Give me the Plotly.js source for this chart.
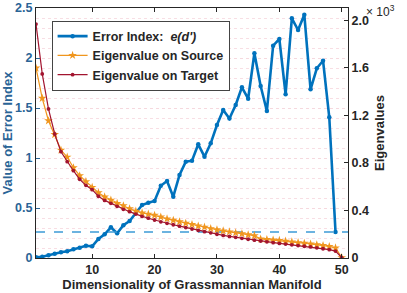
<!DOCTYPE html>
<html><head><meta charset="utf-8">
<script src="https://cdn.plot.ly/plotly-3.0.1.min.js"></script>
<style>html,body{margin:0;padding:0;background:#fff}#c{width:407px;height:293px}</style>
</head><body><div id="c"></div>
<script>
const dims = Array.from({length: 50}, (_, i) => i + 1);
const errorIndex = [0.007,0.013,0.027,0.043,0.057,0.067,0.087,0.103,0.123,0.117,
  0.19,0.237,0.307,0.247,0.327,0.37,0.45,0.53,0.553,0.57,
  0.723,0.77,0.613,0.83,0.963,0.973,1.137,1.013,1.147,1.33,
  1.48,1.395,1.53,1.707,1.593,2.047,1.72,1.47,2.123,2.19,
  1.637,2.397,2.28,2.433,1.687,1.897,1.973,1.407,0.26];
const eigSource = [1.60,1.345,1.156,1.04,0.909,0.85,0.76,0.693,0.643,0.595,
  0.55,0.515,0.488,0.46,0.44,0.415,0.395,0.38,0.37,0.36,
  0.345,0.33,0.318,0.305,0.293,0.282,0.27,0.26,0.248,0.238,
  0.228,0.22,0.212,0.204,0.196,0.188,0.16,0.156,0.152,0.148,
  0.142,0.136,0.13,0.124,0.118,0.112,0.105,0.097,0.085,0.003];
const eigTarget = [1.97,1.55,1.255,1.044,0.895,0.811,0.735,0.663,0.612,0.575,
  0.52,0.485,0.46,0.435,0.41,0.39,0.37,0.35,0.335,0.32,
  0.305,0.292,0.28,0.268,0.256,0.244,0.232,0.222,0.212,0.2,
  0.19,0.182,0.174,0.166,0.158,0.15,0.143,0.136,0.129,0.123,
  0.117,0.111,0.105,0.099,0.093,0.086,0.078,0.07,0.058,0.003];
const leftTicks = [0,0.5,1,1.5,2,2.5];
const leftTickText = ['0','0.5','1','1.5','2','2.5'];
const rightTicks = [0,0.4,0.8,1.2,1.6,2.0];
const rightTickText = ['0','0.4','0.8','1.2','1.6','2.0'];
const xTicks = [10,20,30,40,50];
const xRange = [1,51];

const FONT = 'Liberation Sans, Arial, sans-serif';
const dark = '#262626';
const leftCol = '#2a6496';
const errDims = dims.slice(0, errorIndex.length);
const threshold = errorIndex[errorIndex.length - 1];

const traces = [
  {x: errDims, y: errorIndex, name: "Error Index:  <i>e(d')</i>", mode: 'lines+markers',
   line: {color: '#0072BD', width: 2.6}, marker: {color: '#0072BD', size: 4.5}},
  {x: dims, y: eigSource, yaxis: 'y2', name: 'Eigenvalue on Source', mode: 'lines+markers',
   line: {color: '#F0961E', width: 1.2}, marker: {color: '#F0961E', symbol: 'star', size: 6.5}},
  {x: dims, y: eigTarget, yaxis: 'y2', name: 'Eigenvalue on Target', mode: 'lines+markers',
   line: {color: '#A2142F', width: 1.2}, marker: {color: '#A2142F', size: 3.8}},
  {x: xRange, y: [threshold, threshold], mode: 'lines', showlegend: false, hoverinfo: 'skip',
   line: {color: '#3D9BD6', width: 1.5, dash: 'dash'}}
];

const layout = {
  width: 407, height: 293,
  margin: {l: 36, r: 59, t: 8, b: 35},
  paper_bgcolor: '#fff', plot_bgcolor: '#fff',
  font: {family: FONT, size: 12, color: dark},
  showlegend: true,
  legend: {x: 0.05, y: 0.95, xanchor: 'left', yanchor: 'top',
    bgcolor: '#fff', bordercolor: '#444', borderwidth: 1,
    font: {family: FONT, size: 12.5, color: dark, weight: 'bold'},
    tracegroupgap: 0, itemwidth: 30},
  xaxis: {range: xRange, tickvals: xTicks, ticks: 'inside', ticklen: 4, tickcolor: dark,
    showline: true, linecolor: dark, linewidth: 1, mirror: 'ticks', showgrid: false, zeroline: false,
    tickfont: {family: FONT, size: 12.5, color: dark, weight: 'bold'},
    title: {text: 'Dimensionality of Grassmannian Manifold', standoff: 2,
      font: {family: FONT, size: 13, color: dark, weight: 'bold'}}},
  yaxis: {range: [0, 2.5], tickvals: leftTicks, ticktext: leftTickText, ticks: 'inside', ticklen: 4,
    tickcolor: leftCol, showline: true, linecolor: dark, linewidth: 1, zeroline: false,
    showgrid: true, gridcolor: '#f6d8de', griddash: 'dot', gridwidth: 1,
    minor: {dtick: 0.1, showgrid: true, gridcolor: '#f8dee4', griddash: 'dot', gridwidth: 1},
    tickfont: {family: FONT, size: 12.5, color: leftCol, weight: 'bold'},
    title: {text: 'Value of Error Index', standoff: 6,
      font: {family: FONT, size: 13, color: leftCol, weight: 'bold'}}},
  yaxis2: {overlaying: 'y', side: 'right', range: [0, 2.105], tickvals: rightTicks, ticktext: rightTickText,
    ticks: 'inside', ticklen: 4, tickcolor: dark, showline: true, linecolor: dark, linewidth: 1,
    showgrid: false, zeroline: false,
    tickfont: {family: FONT, size: 12.5, color: dark, weight: 'bold'},
    title: {text: 'Eigenvalues', standoff: 6,
      font: {family: FONT, size: 13, color: dark, weight: 'bold'}}},
  annotations: [{xref: 'paper', yref: 'paper', x: 1.05, y: 0.99, xanchor: 'left', yanchor: 'middle',
    text: '× 10<sup>3</sup>', showarrow: false,
    font: {family: FONT, size: 12, color: dark}}]
};

Plotly.newPlot('c', traces, layout, {displayModeBar: false, staticPlot: true});
</script></body></html>
